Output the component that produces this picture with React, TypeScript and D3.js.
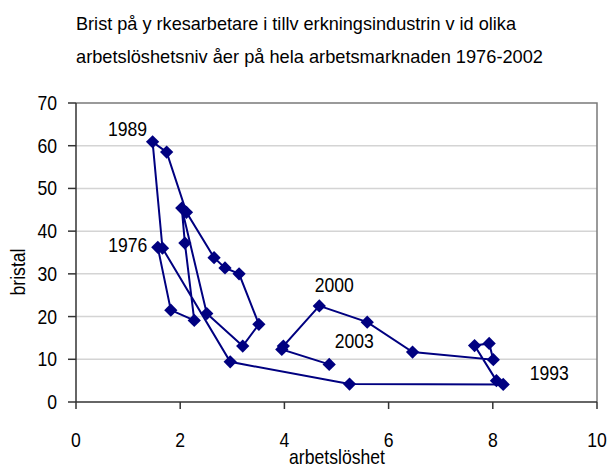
import * as d3 from "d3";
import { useRef, useEffect } from "react";

// bristtal vs arbetslöshet, 1976-2003
const years = [
  1976, 1977, 1978, 1979, 1980, 1981, 1982, 1983, 1984, 1985, 1986, 1987, 1988, 1989,
  1990, 1991, 1992, 1993, 1994, 1995, 1996, 1997, 1998, 1999, 2000, 2001, 2002, 2003,
];
const unemployment = [
  1.57, 1.82, 2.27, 2.09, 2.03, 2.51, 3.2, 3.51, 3.13, 2.86, 2.65, 2.12, 1.74, 1.47,
  1.66, 2.96, 5.25, 8.2, 8.07, 7.65, 7.93, 8.01, 6.46, 5.59, 4.67, 3.98, 3.95, 4.86,
];
const shortage = [
  36.2, 21.5, 19.1, 37.2, 45.4, 20.7, 13.1, 18.2, 30.0, 31.4, 33.8, 44.4, 58.5, 60.9,
  36.0, 9.4, 4.2, 4.1, 5.0, 13.2, 13.7, 9.9, 11.7, 18.7, 22.5, 13.1, 12.3, 8.8,
];
const labelledYears = [1989, 1976, 2000, 2003, 1993];
const xTicks = [0, 2, 4, 6, 8, 10];
const yTicks = [0, 10, 20, 30, 40, 50, 60, 70];
const titleLines = [
  "Brist på y rkesarbetare i tillv erkningsindustrin v id olika",
  "arbetslöshetsniv åer på hela arbetsmarknaden 1976-2002",
];

// where each year label sits relative to its point
const labelOffset: Record<number, [number, number]> = {
  1989: [-25, -6],
  1976: [-30, 5],
  2000: [15, -14],
  2003: [25, -16],
  1993: [46, -4],
};

const W = 608;
const H = 468;
const FONT = "'Liberation Sans', Arial, sans-serif";
const SX = 0.88;

export default function App() {
  const ref = useRef<SVGSVGElement>(null);

  useEffect(() => {
    const svg = d3.select(ref.current);
    svg.selectAll("*").remove();

    const x = d3.scaleLinear().domain([0, 10]).range([76, 597]);
    const y = d3.scaleLinear().domain([0, 70]).range([402, 103]);

    const label = (
      g: any,
      tx: number,
      ty: number,
      txt: string,
      anchor = "middle",
      extra = ""
    ) =>
      g
        .append("text")
        .attr("transform", `translate(${tx},${ty}) ${extra} scale(${SX},1)`)
        .attr("text-anchor", anchor)
        .attr("font-family", FONT)
        .attr("font-size", 20)
        .attr("fill", "#000")
        .text(txt);

    // title
    svg
      .selectAll("text.title")
      .data(titleLines)
      .join("text")
      .attr("class", "title")
      .attr("x", 76)
      .attr("y", (_, i) => 30 + i * 33)
      .attr("font-family", FONT)
      .attr("font-size", 18.6)
      .attr("textLength", (_, i) => (i === 0 ? 440 : 467))
      .attr("lengthAdjust", "spacingAndGlyphs")
      .text((d) => d);

    // gridlines
    svg
      .append("g")
      .selectAll("line")
      .data(yTicks.filter((t) => t > 0 && t < 70))
      .join("line")
      .attr("x1", x(0))
      .attr("x2", x(10))
      .attr("y1", (d) => y(d))
      .attr("y2", (d) => y(d))
      .attr("stroke", "#d4d4d4")
      .attr("stroke-width", 1.5);

    // frame top / right
    svg
      .append("path")
      .attr("d", `M${x(0)},${y(70)}H${x(10)}V${y(0)}`)
      .attr("fill", "none")
      .attr("stroke", "#7a7a7a")
      .attr("stroke-width", 1.5);

    // y axis
    const ya = svg.append("g");
    ya.append("line")
      .attr("x1", x(0))
      .attr("x2", x(0))
      .attr("y1", y(0))
      .attr("y2", y(70))
      .attr("stroke", "#333")
      .attr("stroke-width", 1.5);
    yTicks.forEach((t) => {
      ya.append("line")
        .attr("x1", x(0) - 8)
        .attr("x2", x(0))
        .attr("y1", y(t))
        .attr("y2", y(t))
        .attr("stroke", "#333")
        .attr("stroke-width", 1.5);
      label(ya, 57, y(t) + 7, String(t), "end");
    });

    // x axis
    const xa = svg.append("g");
    xa.append("line")
      .attr("x1", x(0))
      .attr("x2", x(10))
      .attr("y1", y(0))
      .attr("y2", y(0))
      .attr("stroke", "#333")
      .attr("stroke-width", 1.5);
    xTicks.forEach((t) => {
      xa.append("line")
        .attr("x1", x(t))
        .attr("x2", x(t))
        .attr("y1", y(0))
        .attr("y2", y(0) + 7)
        .attr("stroke", "#333")
        .attr("stroke-width", 1.5);
      label(xa, x(t), 447, String(t));
    });

    // axis titles
    label(svg, 337, 464, "arbetslöshet");
    label(svg, 25, 272, "bristal", "middle", "rotate(-90)");

    // the connected series
    const pts = years.map((yr, i) => ({ yr, u: unemployment[i], b: shortage[i] }));
    const line = d3
      .line<any>()
      .x((d) => x(d.u))
      .y((d) => y(d.b));
    svg
      .append("path")
      .datum(pts)
      .attr("d", line)
      .attr("fill", "none")
      .attr("stroke", "#000080")
      .attr("stroke-width", 2);

    const diamond = d3.symbol(d3.symbolSquare, 88);
    svg
      .append("g")
      .selectAll("path")
      .data(pts)
      .join("path")
      .attr("d", diamond)
      .attr("transform", (d) => `translate(${x(d.u)},${y(d.b)}) rotate(45)`)
      .attr("fill", "#000080");

    // year labels
    pts
      .filter((d) => labelledYears.includes(d.yr))
      .forEach((d) => {
        const [dx, dy] = labelOffset[d.yr];
        label(svg, x(d.u) + dx, y(d.b) + dy, String(d.yr));
      });
  }, []);

  return (
    <div style={{ position: "absolute", left: 0, top: 0 }}>
      <svg ref={ref} width={W} height={H} style={{ display: "block", background: "#fff" }}></svg>
    </div>
  );
}
